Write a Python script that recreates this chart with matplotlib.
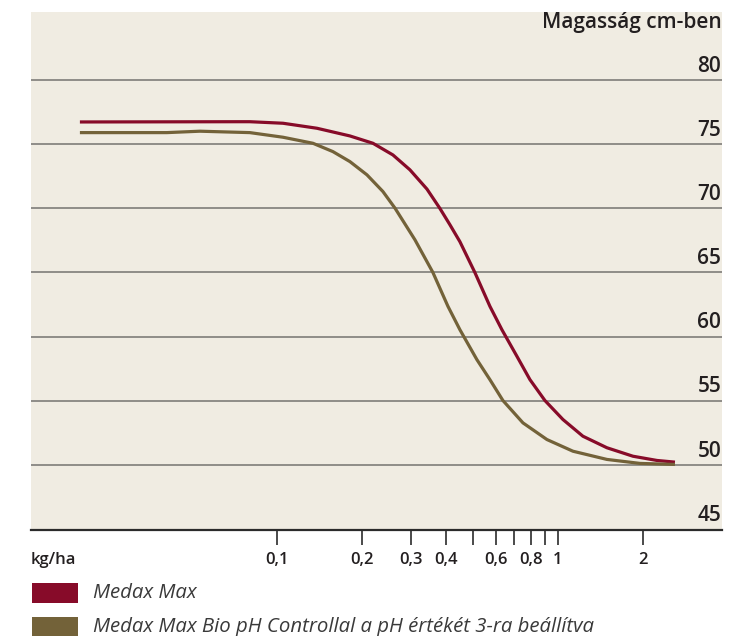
import matplotlib
matplotlib.use("Agg")
import matplotlib.pyplot as plt
from matplotlib.patches import Rectangle
from matplotlib.ticker import FixedLocator, NullLocator

# ---- data ----
red_x = [0.0199, 0.0738, 0.0801, 0.1051, 0.1388, 0.1819, 0.2196, 0.2587, 0.2974, 0.3419,
         0.3800, 0.4127, 0.4479, 0.5063, 0.5728, 0.6319, 0.7145, 0.7951, 0.8990, 1.042,
         1.227, 1.494, 1.849, 2.251, 2.609]
red_y = [76.73, 76.75, 76.75, 76.63, 76.24, 75.64, 75.07, 74.16, 73.00, 71.50,
         70.00, 68.72, 67.40, 65.00, 62.36, 60.54, 58.47, 56.65, 55.02, 53.54,
         52.24, 51.34, 50.68, 50.35, 50.22]

olive_x = [0.0199, 0.0406, 0.0532, 0.0664, 0.0801, 0.1051, 0.1343, 0.1582, 0.1819, 0.2091,
           0.2383, 0.2630, 0.3098, 0.3590, 0.4061, 0.4479, 0.5147, 0.5727, 0.6372,
           0.7507, 0.9138, 1.131, 1.494, 1.958, 2.609]
olive_y = [75.90, 75.90, 76.01, 75.95, 75.90, 75.54, 75.07, 74.42, 73.64, 72.61,
           71.31, 70.02, 67.55, 65.00, 62.36, 60.54, 58.21, 56.65, 55.02,
           53.28, 51.98, 51.07, 50.43, 50.12, 50.04]

series_names = ["Medax Max", "Medax Max Bio pH Controllal a pH értékét 3-ra beállítva"]
series_colors = ["#870B29", "#736239"]

x_ticks = [0.1, 0.2, 0.3, 0.4, 0.5, 0.6, 0.7, 0.8, 0.9, 1, 2]
x_tick_labels = ["0,1", "0,2", "0,3", "0,4", "", "0,6", "", "0,8", "", "1", "2"]
y_ticks = [45, 50, 55, 60, 65, 70, 75, 80]
y_title = "Magasság cm-ben"
x_unit = "kg/ha"

# ---- figure ----
W, H = 744, 636
fig = plt.figure(figsize=(W / 100, H / 100), dpi=100)
fig.patch.set_facecolor("white")

left, right, top, bottom = 31, 722, 12, 530
ax = fig.add_axes([left / W, 1 - bottom / H, (right - left) / W, (bottom - top) / H])
ax.set_facecolor("#F0ECE2")

FONT = ["Open Sans", "DejaVu Sans"]
TXT = "#231F20"

ax.set_xscale("log")
ax.set_xlim(0.01333, 3.836)
ax.set_ylim(44.93, 85.3)

for sp in ["top", "left", "right"]:
    ax.spines[sp].set_visible(False)
ax.spines["bottom"].set_color("#2b2b2b")
ax.spines["bottom"].set_linewidth(1.6)

# grid lines
for v in y_ticks[1:]:
    ax.axhline(v, color="#757370", lw=1.1, zorder=1)

# y labels placed above each line at right
for v in y_ticks:
    ax.annotate(str(v), xy=(1.0, v), xycoords=("axes fraction", "data"),
                xytext=(-0.5, 6), textcoords="offset points",
                ha="right", va="baseline", fontsize=15, fontweight="semibold",
                color=TXT, family=FONT)
ax.text(0.999, 84.05, y_title, transform=ax.get_yaxis_transform(), ha="right", va="baseline",
        fontsize=15, fontweight="semibold", color=TXT, family=FONT)
ax.set_yticks([])

ax.xaxis.set_major_locator(FixedLocator(x_ticks))
ax.xaxis.set_minor_locator(NullLocator())
ax.set_xticklabels(x_tick_labels)
ax.tick_params(axis="x", which="major", length=11, width=1.2, color="#2b2b2b",
               direction="out", pad=5, labelsize=12, labelcolor=TXT)
for lab in ax.get_xticklabels():
    lab.set_family(FONT)
    lab.set_fontweight("semibold")

fig.text(31 / W, 1 - 560 / H, x_unit, ha="left", va="center", fontsize=12,
         fontweight="semibold", color=TXT, family=FONT)

# curves
ax.plot(red_x, red_y, color=series_colors[0], lw=2.3, solid_capstyle="butt",
        solid_joinstyle="round", zorder=3)
ax.plot(olive_x, olive_y, color=series_colors[1], lw=2.3, solid_capstyle="butt",
        solid_joinstyle="round", zorder=3)

# legend
leg_rows = [593, 627]
for name, col, yc in zip(series_names, series_colors, leg_rows):
    fig.patches.append(Rectangle((32 / W, 1 - (yc + 10) / H), 46 / W, 20 / H,
                                 transform=fig.transFigure, facecolor=col, edgecolor="none"))
    fig.text(93 / W, 1 - yc / H, name, ha="left", va="center", fontsize=14.7,
             style="italic", color="#3a3a3a", family=FONT)

fig.savefig("out.png", dpi=100)
